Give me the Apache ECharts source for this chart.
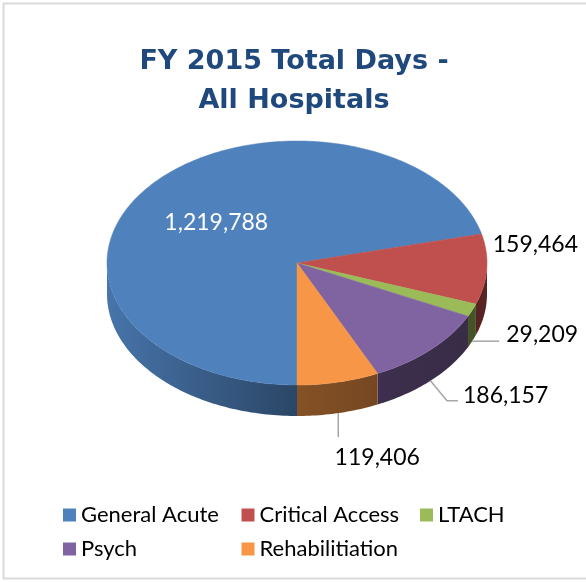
<!DOCTYPE html>
<html>
<head>
<meta charset="utf-8">
<script src="https://cdn.jsdelivr.net/npm/echarts@6/dist/echarts.min.js"></script>
<style>
  html, body { margin: 0; padding: 0; background: #fff; }
  #chart { width: 586px; height: 582px; }
</style>
</head>
<body>
<div id="chart"></div>
<script>
const categories = ['General Acute', 'Critical Access', 'LTACH', 'Psych', 'Rehabilitiation']
const totalDays = [1219788, 159464, 29209, 186157, 119406]
const labelText = ['1,219,788', '159,464', '29,209', '186,157', '119,406']
const colors = ['#4f81bd', '#c0504d', '#9bbb59', '#8064a2', '#f79646']

// tilted pie geometry
const cx = 297, cy = 263, rx = 190, ry = 122, depth = 31
const firstSliceAngle = 180 // clockwise from 12 o'clock, like Excel

// where each outside label sits relative to the bottom rim at the slice's middle
const labelLayout = [
  { inside: 0.54 },
  { line: [], text: [6, -56], align: 'left' },
  { line: [[27, 0]], text: [34, -7], align: 'left' },
  { line: [[16.5, 20], [27.5, 20]], text: [32.5, 15], align: 'left' },
  { line: [[0, 24]], text: [39, 44], align: 'center' }
]

const total = totalDays.reduce((a, b) => a + b, 0)
const starts = []
let acc = firstSliceAngle
totalDays.forEach((v) => { starts.push(acc); acc += (v / total) * 360 })

function rim(theta, f = 1, dy = 0) {
  const r = (theta * Math.PI) / 180
  return [cx + f * rx * Math.sin(r), cy - f * ry * Math.cos(r) + dy]
}

function arc(a, b, dy) {
  const pts = []
  const n = Math.max(2, Math.ceil(Math.abs(b - a)))
  for (let k = 0; k <= n; k++) pts.push(rim(a + ((b - a) * k) / n, 1, dy))
  return pts
}

// brightness of the side wall by angle (front-left lit, front-right dark)
const shadeStops = [[90, 0.46], [135, 0.42], [180, 0.54], [230, 0.78], [270, 0.9]]
function shade(theta) {
  let t = ((theta % 360) + 360) % 360
  for (let k = 1; k < shadeStops.length; k++) {
    const [a0, s0] = shadeStops[k - 1]
    const [a1, s1] = shadeStops[k]
    if (t <= a1) return s0 + ((s1 - s0) * (t - a0)) / (a1 - a0)
  }
  return shadeStops[shadeStops.length - 1][1]
}
function darken(hex, s) {
  const c = echarts.color.parse(hex)
  return `rgb(${Math.round(c[0] * s)},${Math.round(c[1] * s)},${Math.round(c[2] * s)})`
}

function renderItem(params, api) {
  const i = params.dataIndex
  const v = api.value(0)
  const a0 = starts[i]
  const a1 = a0 + (v / total) * 360
  const children = []

  // side walls: only the front half of the rim is visible
  ;[[90, 270], [450, 630]].forEach(([lo, hi]) => {
    const a = Math.max(a0, lo)
    const b = Math.min(a1, hi)
    if (b <= a) return
    const pts = arc(a, b, 0).concat(arc(b, a, depth))
    children.push({
      type: 'polygon',
      z2: 0,
      shape: { points: pts },
      style: {
        fill: new echarts.graphic.LinearGradient(0, 0, 1, 0, [
          { offset: 0, color: darken(colors[i], shade(b)) },
          { offset: 1, color: darken(colors[i], shade(a)) }
        ])
      }
    })
  })

  // top face
  children.push({
    type: 'polygon',
    z2: 1,
    shape: { points: [[cx, cy]].concat(arc(a0, a1, 0)) },
    style: { fill: colors[i], stroke: colors[i], lineWidth: 0.5 }
  })

  const mid = (a0 + a1) / 2
  const lay = labelLayout[i]
  if (lay.inside) {
    const p = rim(mid, lay.inside)
    children.push({
      type: 'text', z2: 3, x: p[0], y: p[1],
      style: { text: labelText[i], fill: '#fff', font: '23px Lato', align: 'center', verticalAlign: 'middle' }
    })
  } else {
    const anchor = rim(mid, 1, depth)
    if (lay.line.length) {
      children.push({
        type: 'polyline', z2: 2,
        shape: { points: [anchor].concat(lay.line.map((d) => [anchor[0] + d[0], anchor[1] + d[1]])) },
        style: { stroke: '#a6a6a6', lineWidth: 1.5, fill: null }
      })
    }
    children.push({
      type: 'text', z2: 3, x: anchor[0] + lay.text[0], y: anchor[1] + lay.text[1],
      style: { text: labelText[i], fill: '#000', font: '23px Lato', align: lay.align, verticalAlign: 'middle' }
    })
  }
  return { type: 'group', children }
}

const chart = echarts.init(document.getElementById('chart'), null, { renderer: 'canvas' })

const legendBase = {
  orient: 'horizontal',
  left: 63,
  width: 523,
  padding: 0,
  icon: 'rect',
  itemWidth: 13,
  itemHeight: 13,
  itemGap: 15.5,
  selectedMode: false,
  textStyle: { fontFamily: 'Lato', fontSize: 22, color: '#000', width: 145, lineHeight: 26 }
}

chart.setOption({
  animation: false,
  backgroundColor: '#fff',
  color: colors,
  title: {
    text: 'FY 2015 Total Days -\nAll Hospitals',
    left: 294,
    top: 42,
    padding: 0,
    textAlign: 'center',
    textStyle: { fontFamily: 'DejaVu Sans', fontWeight: 'bold', fontSize: 27, lineHeight: 39, color: '#1f497d' }
  },
  legend: [
    Object.assign({}, legendBase, { data: categories.slice(0, 3), top: 502 }),
    Object.assign({}, legendBase, { data: categories.slice(3), top: 536 })
  ],
  graphic: [{
    type: 'rect',
    shape: { x: 3.5, y: 3.5, width: 600, height: 575 },
    style: { fill: null, stroke: '#d9d9d9', lineWidth: 2 },
    silent: true
  }],
  series: [
    {
      // carries the category colours for the legend only
      type: 'pie',
      radius: [0, 0],
      silent: true,
      label: { show: false },
      labelLine: { show: false },
      data: categories.map((name, i) => ({ name, value: totalDays[i] }))
    },
    {
      type: 'custom',
      coordinateSystem: 'none',
      renderItem,
      data: categories.map((name, i) => ({ name, value: totalDays[i] }))
    }
  ]
})

window.addEventListener('resize', () => chart.resize())
</script>
</body>
</html>
